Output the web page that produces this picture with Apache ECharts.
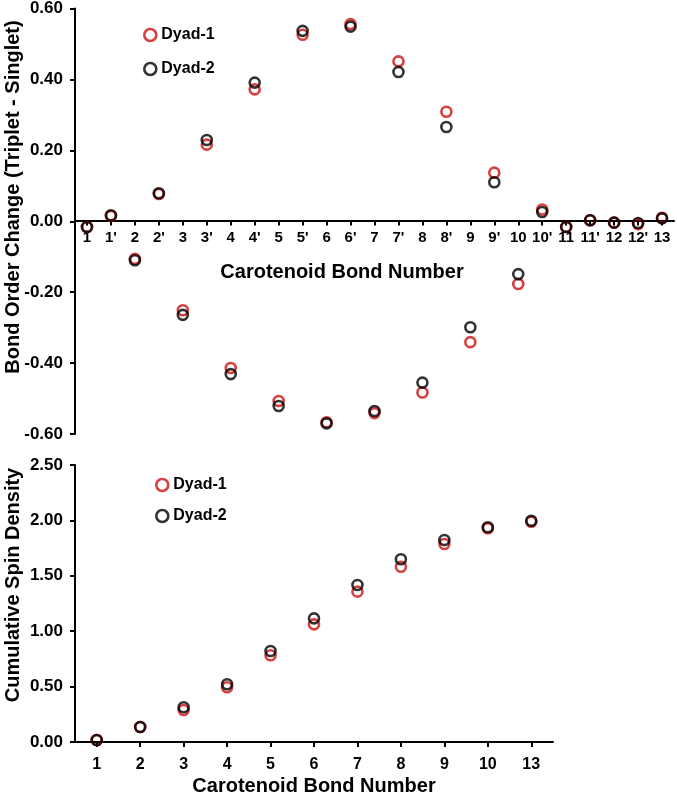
<!DOCTYPE html>
<html>
<head>
<meta charset="utf-8">
<script src="https://cdn.jsdelivr.net/npm/echarts@6/dist/echarts.min.js"></script>
<style>
html,body{margin:0;padding:0;background:#fff;}
#chart{width:677px;height:796px;}
</style>
</head>
<body>
<div id="chart"></div>
<script>
// ---- Data ----
const bondCats = ['1',"1'",'2',"2'",'3',"3'",'4',"4'",'5',"5'",'6',"6'",'7',"7'",'8',"8'",'9',"9'",'10',"10'",'11',"11'",'12',"12'",'13'];
const bondDyad1 = [-0.016,0.015,-0.106,0.077,-0.251,0.216,-0.414,0.372,-0.507,0.526,-0.567,0.556,-0.541,0.451,-0.483,0.309,-0.341,0.137,-0.177,0.033,-0.016,0.003,-0.004,-0.008,0.010];
const bondDyad2 = [-0.016,0.017,-0.110,0.079,-0.264,0.229,-0.431,0.391,-0.521,0.537,-0.570,0.549,-0.535,0.421,-0.455,0.266,-0.299,0.110,-0.149,0.026,-0.016,0.003,-0.004,-0.005,0.008];

const spinCats = ['1','2','3','4','5','6','7','8','9','10','13'];
const spinDyad1 = [0.018,0.135,0.289,0.494,0.783,1.062,1.357,1.582,1.787,1.929,1.988];
const spinDyad2 = [0.018,0.135,0.313,0.521,0.821,1.116,1.417,1.649,1.823,1.938,1.997];

const seriesNames = ['Dyad-1','Dyad-2'];
const topTicks = {min:-0.6, max:0.6, interval:0.2};
const botTicks = {min:0, max:2.5, interval:0.5};

// ---- Styles ----
const FONT = "'Liberation Sans', Arial, sans-serif";
const RED = '#cc1010';
const BLACK = '#000000';
const axisLineStyle = {lineStyle:{color:'#000', width:2}};
const TOP_H = 427;

function yAxisCfg(gridIndex, t) {
  return {
    type:'value', gridIndex, min:t.min, max:t.max, interval:t.interval,
    splitLine:{show:false},
    axisLine:{show:true, ...axisLineStyle},
    axisTick:{show:true, length:5, lineStyle:{color:'#000', width:2}},
    axisLabel:{formatter:v=>v.toFixed(2), fontFamily:FONT, fontWeight:'bold', fontSize:17, color:'#000', margin:12}
  };
}
function xAxisCfg(gridIndex, cats, fs, margin, offset) {
  return {
    type:'category', gridIndex, data:cats, boundaryGap:true, offset:offset,
    axisLine:{show:true, onZero:false, ...axisLineStyle},
    axisTick:{show:true, alignWithLabel:true, length:5, lineStyle:{color:'#000', width:2}},
    axisLabel:{interval:0, fontFamily:FONT, fontWeight:'bold', fontSize:fs, color:'#000', margin:margin},
    splitLine:{show:false}
  };
}
function scatter(name, color, xi, yi, data) {
  return {
    type:'scatter', name, xAxisIndex:xi, yAxisIndex:yi, data,
    symbol:'circle', symbolSize:10,
    itemStyle:{color:'rgba(255,255,255,0)', borderColor:color, borderWidth:2.6},
    emphasis:{disabled:true}
  };
}

const chart = echarts.init(document.getElementById('chart'), null, {renderer:'canvas'});
chart.setOption({
  animation:false,
  backgroundColor:'#fff',
  grid:[
    {left:75, top:7, width:599, height:TOP_H},
    {left:75, top:465, width:478, height:277}
  ],
  xAxis:[ xAxisCfg(0, bondCats, 15, 10, -TOP_H/2), xAxisCfg(1, spinCats, 16, 15, 0) ],
  yAxis:[ yAxisCfg(0, topTicks), yAxisCfg(1, botTicks) ],
  legend:[
    {orient:'vertical', left:138, top:22, itemGap:18, itemWidth:12, itemHeight:12, icon:'circle',
     data:seriesNames, textStyle:{fontFamily:FONT, fontWeight:'bold', fontSize:16, color:'#000'}, selectedMode:false,
     itemStyle:{borderWidth:2.6}},
    {orient:'vertical', left:150, top:472, itemGap:15, itemWidth:12, itemHeight:12, icon:'circle',
     data:seriesNames, textStyle:{fontFamily:FONT, fontWeight:'bold', fontSize:16, color:'#000'}, selectedMode:false,
     itemStyle:{borderWidth:2.6}}
  ],
  series:[
    scatter(seriesNames[0], RED, 0, 0, bondDyad1),
    scatter(seriesNames[1], BLACK, 0, 0, bondDyad2),
    scatter(seriesNames[0], RED, 1, 1, spinDyad1),
    scatter(seriesNames[1], BLACK, 1, 1, spinDyad2)
  ],
  graphic:[
    {type:'text', x:342, y:272, style:{text:'Carotenoid Bond Number', font:"bold 20px "+FONT, fill:'#000', textAlign:'center', textVerticalAlign:'middle'}},
    {type:'text', x:314, y:786, style:{text:'Carotenoid Bond Number', font:"bold 20px "+FONT, fill:'#000', textAlign:'center', textVerticalAlign:'middle'}},
    {type:'text', x:13, y:197, rotation:Math.PI/2, style:{text:'Bond Order Change (Triplet - Singlet)', font:"bold 20px "+FONT, fill:'#000', textAlign:'center', textVerticalAlign:'middle'}},
    {type:'text', x:13, y:585, rotation:Math.PI/2, style:{text:'Cumulative Spin Density', font:"bold 20px "+FONT, fill:'#000', textAlign:'center', textVerticalAlign:'middle'}}
  ]
});
</script>
</body>
</html>
